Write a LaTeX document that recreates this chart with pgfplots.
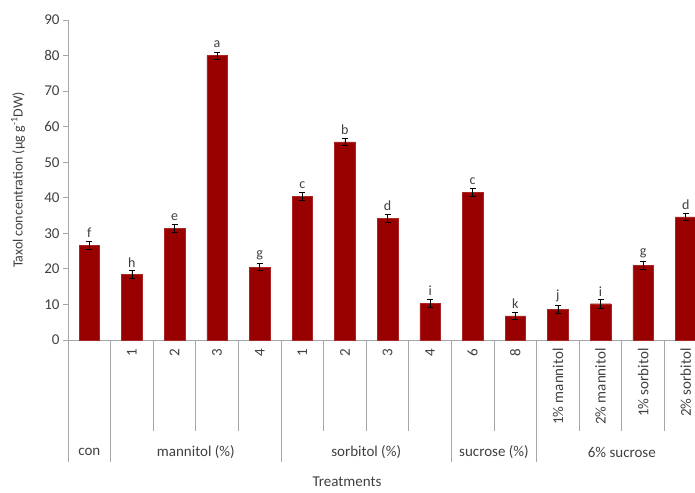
\documentclass[border=0pt]{standalone}
\usepackage{fontspec}
\setmainfont{Carlito}
\usepackage{pgfplots}
\pgfplotsset{compat=1.18}
\usepackage{pgfplotstable}

\definecolor{barred}{HTML}{990000}
\definecolor{axisgray}{HTML}{A6A6A6}
\definecolor{txt}{HTML}{404040}

% Taxol concentration per treatment, standard error and significance letter
\pgfplotstableread{
x y err lbl
0 26.6 1.1 f
1 18.4 1.2 h
2 31.4 1.1 e
3 80.0 1.0 a
4 20.5 1.0 g
5 40.5 1.1 c
6 55.7 1.0 b
7 34.2 1.1 d
8 10.3 1.1 i
9 41.6 1.1 c
10 6.8 1.1 k
11 8.6 1.1 j
12 10.2 1.2 i
13 21.0 1.1 g
14 34.6 1.0 d
}\taxol

\begin{document}
\begin{tikzpicture}[x=1pt,y=1pt]
\path[use as bounding box, clip] (0,0) rectangle (695,492);
\begin{axis}[
  at={(68pt,152pt)}, anchor=south west,
  scale only axis, width=639pt, height=320pt,
  xmin=-0.5, xmax=14.5, ymin=0, ymax=90,
  axis x line*=bottom, axis y line*=left,
  axis line style={draw=axisgray, line width=0.8pt, -},
  ytick={0,10,...,90},
  xtick={0,...,14},
  xticklabels={,1,2,3,4,1,2,3,4,6,8,1\% mannitol,2\% mannitol,1\% sorbitol,2\% sorbitol},
  tick align=outside, major tick length=5pt,
  x tick style={draw=none},
  y tick style={draw=axisgray, line width=0.8pt},
  /pgf/number format/assume math mode=true,
  yticklabel style={font=\fontsize{15}{15}\selectfont, text=txt},
  xticklabel style={font=\fontsize{15}{15}\selectfont, text=txt, rotate=90, anchor=east},
  ylabel={Taxol concentration (µg g\textsuperscript{-1}DW)},
  ylabel style={font=\fontsize{14}{14}\selectfont, text=txt, at={(axis description cs:-0.0782,0.5)}, anchor=center},
  clip=false,
  ybar, bar width=20.5pt,
  nodes near coords,
  point meta=explicit symbolic,
  nodes near coords style={font=\fontsize{14}{14}\selectfont, text=txt, anchor=south, yshift=4pt},
]
\addplot[fill=barred, draw=barred!85!white,
  error bars/.cd, y dir=both, y explicit,
  error bar style={black, line width=0.7pt},
  error mark options={black, line width=0.7pt, mark size=3pt, rotate=90}]
  table[x=x, y=y, y error=err, meta=lbl]{\taxol};

% separators below the category axis (long between groups, short within)
\pgfplotsinvokeforeach{-0.5,0.5,4.5,8.5,10.5,14.5}{
  \draw[axisgray, line width=0.8pt] (axis cs:#1,0) -- (axis cs:#1,-34.3);
}
\pgfplotsinvokeforeach{1.5,2.5,3.5,5.5,6.5,7.5,9.5,11.5,12.5,13.5}{
  \draw[axisgray, line width=0.8pt] (axis cs:#1,0) -- (axis cs:#1,-25.6);
}
% group names and axis title
\path[font=\fontsize{15}{15}\selectfont, text=txt]
  (axis cs:0,-31.5) node {con}
  (axis cs:2.5,-31.5) node {mannitol (\%)}
  (axis cs:6.5,-31.5) node {sorbitol (\%)}
  (axis cs:9.5,-31.5) node {sucrose (\%)}
  (axis cs:12.5,-31.5) node {6\% sucrose}
  (axis cs:6.05,-39.9) node[inner sep=1pt] {Treatments};
\end{axis}
\end{tikzpicture}
\end{document}
